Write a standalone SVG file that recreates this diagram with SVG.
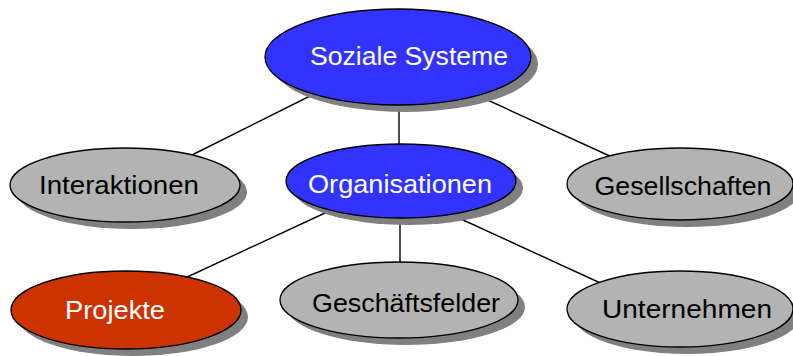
<svg xmlns="http://www.w3.org/2000/svg" width="793" height="356" viewBox="0 0 793 356">
<style>
.sh{fill:#808080;stroke:none}
.el{stroke:#000;stroke-width:1.3}
.blue{fill:#3333ff}
.gray{fill:#b3b3b3}
.red{fill:#cc3300}
.t{font-family:"Liberation Sans",Arial,sans-serif;font-size:26px;text-anchor:middle}
.w{fill:#fff}
.k{fill:#000}
.c{stroke:#000;stroke-width:1.4;fill:none}
</style>
<rect width="793" height="356" fill="#fff"/>
<g id="connectors">
<line class="c" x1="330" y1="86" x2="180" y2="161"/>
<line class="c" x1="470" y1="92" x2="625" y2="163"/>
<line class="c" x1="399" y1="95" x2="399" y2="150"/>
<line class="c" x1="340" y1="206" x2="170" y2="285"/>
<line class="c" x1="450" y1="214" x2="620" y2="292"/>
<line class="c" x1="400" y1="210" x2="400" y2="270"/>
</g>
<g id="soziale">
<ellipse class="sh" cx="405" cy="64" rx="133" ry="48"/>
<ellipse class="el blue" cx="398" cy="57" rx="133" ry="48"/>
<text class="t w" x="409" y="65" textLength="198" lengthAdjust="spacingAndGlyphs">Soziale Systeme</text>
</g>
<g id="interaktionen">
<ellipse class="sh" cx="132" cy="192" rx="115" ry="37"/>
<ellipse class="el gray" cx="125" cy="185" rx="115" ry="37"/>
<text class="t k" x="119" y="194" textLength="160" lengthAdjust="spacingAndGlyphs">Interaktionen</text>
</g>
<g id="organisationen">
<ellipse class="sh" cx="408" cy="188" rx="115" ry="37"/>
<ellipse class="el blue" cx="401" cy="181" rx="115" ry="37"/>
<text class="t w" x="400" y="193" textLength="184" lengthAdjust="spacingAndGlyphs">Organisationen</text>
</g>
<g id="gesellschaften">
<ellipse class="sh" cx="687" cy="191" rx="113" ry="36"/>
<ellipse class="el gray" cx="680" cy="184" rx="113" ry="36"/>
<text class="t k" x="683" y="195" textLength="177" lengthAdjust="spacingAndGlyphs">Gesellschaften</text>
</g>
<g id="projekte">
<ellipse class="sh" cx="133" cy="317" rx="115" ry="39"/>
<ellipse class="el red" cx="126" cy="310" rx="115" ry="39"/>
<text class="t w" x="115" y="319" textLength="100" lengthAdjust="spacingAndGlyphs">Projekte</text>
</g>
<g id="geschaeftsfelder">
<ellipse class="sh" cx="406" cy="307" rx="119" ry="38"/>
<ellipse class="el gray" cx="399" cy="300" rx="119" ry="38"/>
<text class="t k" x="406" y="312" textLength="188" lengthAdjust="spacingAndGlyphs">Geschäftsfelder</text>
</g>
<g id="unternehmen">
<ellipse class="sh" cx="687" cy="316" rx="113" ry="38"/>
<ellipse class="el gray" cx="680" cy="309" rx="113" ry="38"/>
<text class="t k" x="687" y="318" textLength="170" lengthAdjust="spacingAndGlyphs">Unternehmen</text>
</g>
</svg>
